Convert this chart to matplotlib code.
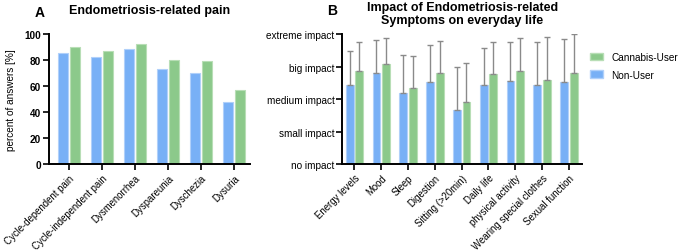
import numpy as np
import matplotlib
matplotlib.use("Agg")
import matplotlib.pyplot as plt
from matplotlib.patches import Patch

plt.rcParams['font.family'] = ['Liberation Sans', 'DejaVu Sans']

# panel A data
pain_labels = ["Cycle-dependent pain", "Cycle-independent pain", "Dysmenorrhea",
               "Dyspareunia", "Dyschezia", "Dysuria"]
pain_non_user = [85.6, 82.3, 88.5, 73.5, 70.2, 47.9]
pain_cannabis = [90.0, 87.0, 92.0, 79.7, 78.9, 56.9]

# panel B data (0 = no impact ... 4 = extreme impact)
impact_labels = ["Energy levels", "Mood", "Sleep", "Digestion", "Sitting (>20min)",
                 "Daily life", "physical activity", "Wearing special clothes",
                 "Sexual function"]
impact_levels = ["no impact", "small impact", "medium impact", "big impact", "extreme impact"]
impact_non_user = [2.44, 2.80, 2.18, 2.52, 1.67, 2.44, 2.56, 2.43, 2.53]
impact_cannabis = [2.87, 3.07, 2.33, 2.80, 1.90, 2.76, 2.87, 2.60, 2.79]
sd_non_user = [1.03, 1.01, 1.19, 1.13, 1.31, 1.12, 1.20, 1.31, 1.31]
sd_cannabis = [0.89, 0.80, 0.99, 1.00, 1.21, 1.00, 1.00, 1.31, 1.21]

blue, blue_edge = "#78b0f6", "#b0d0fa"
green, green_edge = "#8cc98b", "#b8deb6"
fs = 7.2

fig = plt.figure(figsize=(6.85, 2.53), dpi=100)
axA = fig.add_axes([0.0715, 0.3466, 0.2935, 0.5151])
axB = fig.add_axes([0.4995, 0.3466, 0.3505, 0.5151])

for ax in (axA, axB):
    ax.spines['top'].set_visible(False)
    ax.spines['right'].set_visible(False)
    ax.spines['left'].set_linewidth(1.4)
    ax.spines['bottom'].set_linewidth(1.4)
    ax.tick_params(width=1.2, length=4, labelsize=fs, pad=1.5)
    ax.tick_params(axis='x', labelsize=6.9, pad=2)

# Panel A
x = np.arange(len(pain_labels))
w = 0.3
axA.bar(x - 0.175, pain_non_user, w, color=blue, edgecolor=blue_edge, linewidth=0.8)
axA.bar(x + 0.175, pain_cannabis, w, color=green, edgecolor=green_edge, linewidth=0.8)
axA.set_xlim(-0.6, 5.48)
axA.set_ylim(0, 100)
axA.set_yticks([0, 20, 40, 60, 80, 100])
for t in axA.get_yticklabels():
    t.set_fontweight('bold')
axA.set_xticks(x)
axA.set_xticklabels(pain_labels, rotation=45, ha='right', rotation_mode='anchor')
axA.set_ylabel("percent of answers [%]", fontsize=fs, labelpad=6)
axA.set_title("Endometriosis-related pain", fontsize=9, fontweight='bold', pad=15)
fig.text(0.051, 0.948, "A", fontsize=10, fontweight='bold', ha='left', va='center')

# Panel B
xb = np.arange(len(impact_labels))
wb = 0.29
axB.bar(xb - 0.18, impact_non_user, wb, color=blue, edgecolor=blue_edge, linewidth=0.8,
        yerr=[np.zeros(len(xb)), sd_non_user], error_kw=dict(ecolor='#8a8a8a', elinewidth=1.0,
                                                           capsize=2, capthick=1.0))
axB.bar(xb + 0.18, impact_cannabis, wb, color=green, edgecolor=green_edge, linewidth=0.8,
        yerr=[np.zeros(len(xb)), sd_cannabis], error_kw=dict(ecolor='#8a8a8a', elinewidth=1.0,
                                                            capsize=2, capthick=1.0))
axB.set_xlim(-0.46, 8.5)
axB.set_ylim(0, 4)
axB.set_yticks(range(5))
axB.set_yticklabels(impact_levels)
axB.set_xticks(xb)
axB.set_xticklabels(impact_labels, rotation=45, ha='right', rotation_mode='anchor')
axB.set_title("Impact of Endometriosis-related\nSymptoms on everyday life", fontsize=9,
              fontweight='bold', pad=8, linespacing=1.05)
fig.text(0.478, 0.958, "B", fontsize=10, fontweight='bold', ha='left', va='center')

handles = [Patch(facecolor=green, edgecolor=green_edge, label="Cannabis-User"),
           Patch(facecolor=blue, edgecolor=blue_edge, label="Non-User")]
fig.legend(handles=handles, loc='upper left', bbox_to_anchor=(0.862, 0.79), frameon=False,
           fontsize=fs, handlelength=1.3, handleheight=0.8, handletextpad=0.8,
           labelspacing=0.75, borderpad=0, borderaxespad=0)

fig.savefig("out.png", dpi=100)
